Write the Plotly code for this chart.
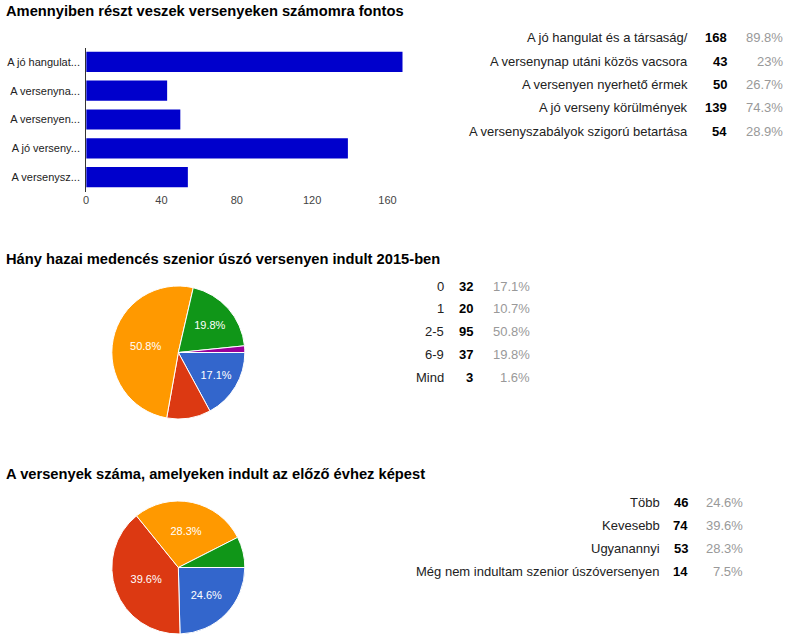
import plotly.graph_objects as go

W, H = 791, 639
RESPONDENTS = 187

# ---- data ----
q1_title = "Amennyiben részt veszek versenyeken számomra fontos"
q1_labels = ["A jó hangulat és a társaság/", "A versenynap utáni közös vacsora",
             "A versenyen nyerhető érmek", "A jó verseny körülmények",
             "A versenyszabályok szigorú betartása"]
q1_short = ["A jó hangulat...", "A versenyna...", "A versenyen...", "A jó verseny...", "A versenysz..."]
q1_values = [168, 43, 50, 139, 54]
q1_ticks = [0, 40, 80, 120, 160]

q2_title = "Hány hazai medencés szenior úszó versenyen indult 2015-ben"
q2_labels = ["0", "1", "2-5", "6-9", "Mind"]
q2_values = [32, 20, 95, 37, 3]

q3_title = "A versenyek száma, amelyeken indult az előző évhez képest"
q3_labels = ["Több", "Kevesebb", "Ugyanannyi", "Még nem indultam szenior úszóversenyen"]
q3_values = [46, 74, 53, 14]

pie_colors = ["#3366cc", "#dc3912", "#ff9900", "#109618", "#990099"]
FONT = "Liberation Sans, Arial, sans-serif"


def px(x):
    return x / W


def py(y):
    return 1 - y / H


def pct(v):
    return f"{round(v / RESPONDENTS * 100, 1):g}%"


fig = go.Figure()

# ---- bar chart ----
fig.add_trace(go.Bar(
    x=q1_values, y=q1_short, orientation="h",
    marker=dict(color="#0000cc", line=dict(width=0)),
    width=0.7, hoverinfo="x+y", showlegend=False,
    xaxis="x", yaxis="y",
))


# ---- pies ----
def pie(values, labels, dom_y):
    tot = sum(values)
    tt = ["%{percent:.1%}" if v / tot > 0.15 else "" for v in values]
    return go.Pie(
        values=values, labels=labels, sort=False, direction="clockwise",
        rotation=90,
        marker=dict(colors=pie_colors[:len(values)], line=dict(color="white", width=1)),
        texttemplate=tt, textposition="inside", insidetextorientation="horizontal",
        textfont=dict(color="white", size=11, family=FONT),
        domain=dict(x=[px(109), px(243)], y=dom_y),
        showlegend=False, hoverinfo="label+value+percent",
    )


fig.add_trace(pie(q2_values, q2_labels, [py(419), py(286)]))
fig.add_trace(pie(q3_values, q3_labels, [py(634), py(501)]))

ann = []
# titles
for t, y in [(q1_title, 11), (q2_title, 259), (q3_title, 474)]:
    ann.append(dict(text=f"<b>{t}</b>", x=px(1), y=py(y), xref="paper", yref="paper",
                    xanchor="left", yanchor="middle", showarrow=False,
                    font=dict(family=FONT, size=14.7, color="#000")))


def table(labels, values, y0, pitch, xl, xc, xp):
    for i, (l, v) in enumerate(zip(labels, values)):
        y = py(y0 + i * pitch)
        ann.append(dict(text=l, x=px(xl), y=y, xref="paper", yref="paper", xanchor="right",
                        yanchor="middle", showarrow=False,
                        font=dict(family=FONT, size=13, color="#222")))
        ann.append(dict(text=f"<b>{v}</b>", x=px(xc), y=y, xref="paper", yref="paper",
                        xanchor="right", yanchor="middle", showarrow=False,
                        font=dict(family=FONT, size=13, color="#000")))
        ann.append(dict(text=pct(v), x=px(xp), y=y, xref="paper", yref="paper",
                        xanchor="right", yanchor="middle", showarrow=False,
                        font=dict(family=FONT, size=13, color="#999")))


table(q1_labels, q1_values, 38, 23.3, 690, 729, 785)
table(q2_labels, q2_values, 286, 22.9, 445, 474, 531)
table(q3_labels, q3_values, 502, 23.3, 662, 690, 745)

fig.update_layout(
    width=W, height=H, autosize=False,
    margin=dict(l=0, r=0, t=0, b=0),
    paper_bgcolor="white", plot_bgcolor="white",
    font=dict(family=FONT, size=11, color="#222"),
    xaxis=dict(domain=[px(83.5), px(83.5 + 170 * 1.89)], range=[0, 170],
               tickvals=q1_ticks, showgrid=False, zeroline=False, showline=False,
               ticks="", tickfont=dict(size=11, color="#444", family=FONT), fixedrange=True),
    yaxis=dict(domain=[py(191.5), py(47.5)], autorange="reversed", showgrid=False,
               zeroline=False, showline=True, linecolor="#333", linewidth=1, ticks="",
               ticklabelstandoff=3,
               tickfont=dict(size=11, color="#222", family=FONT), fixedrange=True),
    annotations=ann,
)

fig.write_html("out.html", config={"displayModeBar": False},
               post_script="document.body.style.margin='0';")
